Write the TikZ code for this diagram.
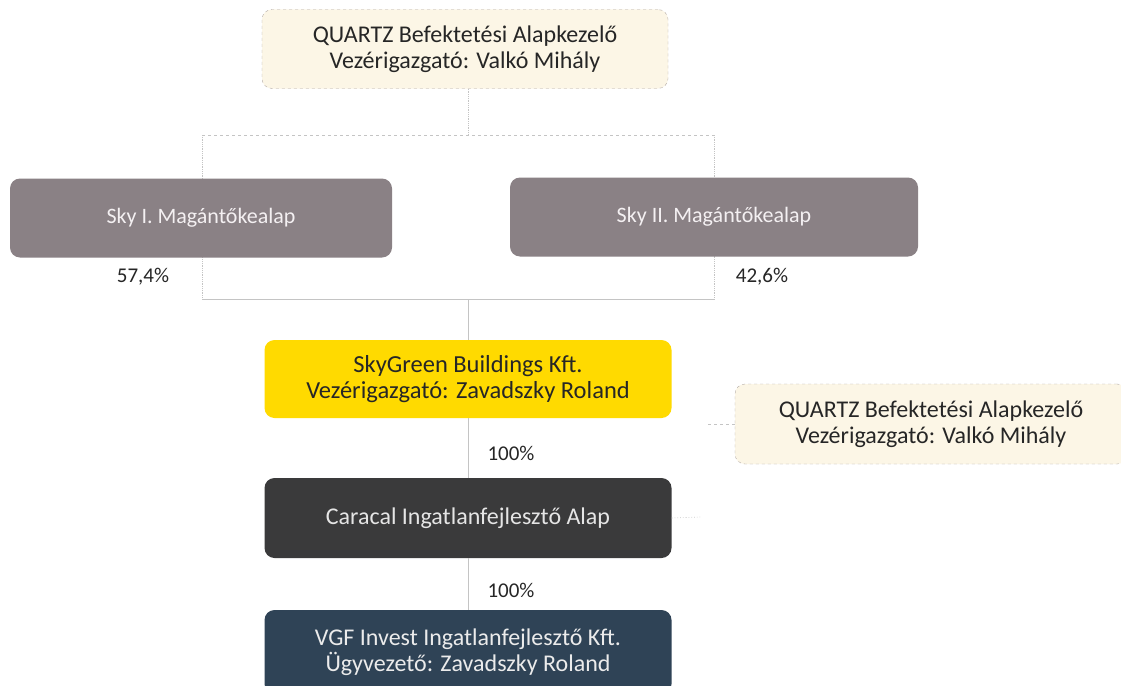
\documentclass[tikz,border=0pt]{standalone}
\usepackage{fontspec}
\setmainfont{Carlito}
\usetikzlibrary{positioning}

\definecolor{quartzfill}{HTML}{FCF6E6}
\definecolor{quartzline}{HTML}{B4ACA6}
\definecolor{skygray}{HTML}{8A8185}
\definecolor{skytext}{HTML}{F4F0F2}
\definecolor{greenyellow}{HTML}{FFDA00}
\definecolor{caracalgray}{HTML}{3A3A3B}
\definecolor{vgfblue}{HTML}{2F4356}
\definecolor{linkgray}{HTML}{C4C4C4}

\tikzset{
  orgbox/.style={rounded corners=10pt, align=center, inner sep=0pt,
    minimum height=79pt, font=\fontsize{24}{26}\selectfont},
  quartzbox/.style={orgbox, fill=quartzfill, draw=quartzline, dashed,
    minimum width=406pt, text=black!85},
  skybox/.style={orgbox, fill=skygray, text=skytext, font=\fontsize{22}{26}\selectfont},
  mainbox/.style={orgbox, minimum width=407pt},
  pct/.style={font=\fontsize{21}{24}\selectfont, text=black!85},
  link/.style={draw=linkgray, line width=0.8pt}
}

\begin{document}
\begin{tikzpicture}[x=1pt, y=-1pt]
  \useasboundingbox[fill=white] (0,0) rectangle (1121,685);

  % frame behind the two funds
  \coordinate (hubTL) at (202,135);
  \coordinate (hubTR) at (714,135);
  \coordinate (hubBL) at (202,299);
  \coordinate (hubBR) at (714,299);
  \coordinate (hubTop) at (468,135);
  \coordinate (hubBot) at (468,299);
  \draw[link, dashed, line width=0.6pt] (hubTL) -- (hubTR);
  \draw[link, densely dotted, line width=0.6pt] (hubTL) -- (hubBL);
  \draw[link, densely dotted, line width=0.6pt] (hubTR) -- (hubBR);
  \draw[link, line width=0.6pt] (hubBL) -- (hubBR);

  \node[quartzbox] (quartzTop) at (465,49)
    {QUARTZ Befektetési Alapkezelő\\Vezérigazgató: Valkó Mihály};

  \node[skybox, minimum width=382pt] (skyOne) at (201,218) {Sky I. Magántőkealap};
  \node[skybox, minimum width=408pt] (skyTwo) at (714,217) {Sky II. Magántőkealap};

  \node[pct] (pctOne) at (143,277) {57,4\%};
  \node[pct] (pctTwo) at (762,277) {42,6\%};

  \node[mainbox, fill=greenyellow, minimum height=78pt, text=black!85,
    font=\fontsize{24.5}{26}\selectfont] (skyGreen) at (468,379)
    {SkyGreen Buildings Kft.\\Vezérigazgató: Zavadszky Roland};
  \node[pct] (pctGreen) at (511,453) {100\%};

  \node[mainbox, fill=caracalgray, minimum height=80pt, text=white!90!black] (caracal) at (468,518)
    {Caracal Ingatlanfejlesztő Alap};
  \node[pct] (pctCaracal) at (511,590) {100\%};

  \node[mainbox, fill=vgfblue, minimum height=84pt, text=white!92!black] (vgf) at (468,652)
    {VGF Invest Ingatlanfejlesztő Kft.\\Ügyvezető: Zavadszky Roland};

  \node[quartzbox, minimum width=392pt, minimum height=80pt] (quartzSide) at (931,424)
    {QUARTZ Befektetési Alapkezelő\\Vezérigazgató: Valkó Mihály};

  % connectors
  \coordinate (sideEnd) at (705,424);
  \coordinate (caracalEnd) at (700,517);
  \draw[link, densely dotted] (quartzTop.south -| hubTop) -- (hubTop);
  \draw[link] (hubBot) -- (skyGreen.north);
  \draw[link] (skyGreen.south) -- (caracal.north);
  \draw[link] (caracal.south) -- (vgf.north);
  \draw[link, dashed, line width=0.6pt] (quartzSide.west) -- (sideEnd);
  \draw[link, dotted, line width=0.6pt] (caracal.east) -- (caracalEnd);
\end{tikzpicture}
\end{document}
